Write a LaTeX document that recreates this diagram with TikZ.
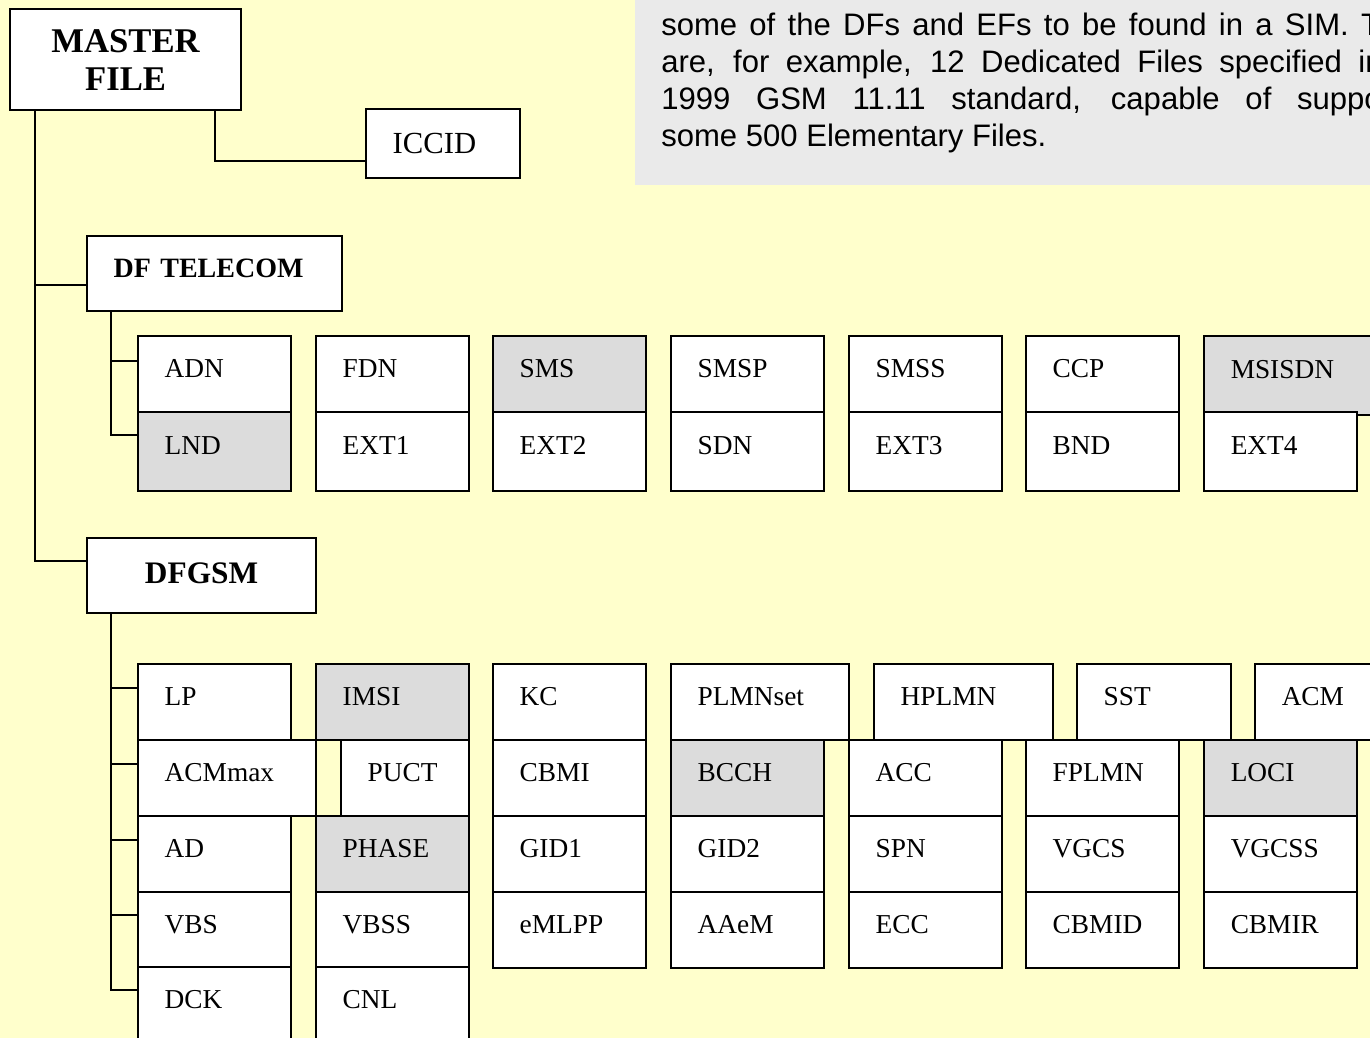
\documentclass[tikz,border=0pt]{standalone}
\usepackage{fontspec}
\setmainfont{Liberation Serif}
\newfontfamily\notefont{Liberation Sans}
\usetikzlibrary{calc}
\definecolor{paper}{RGB}{255,255,204}
\definecolor{efgray}{RGB}{220,220,220}
\definecolor{notegray}{RGB}{234,234,234}

\begin{document}
\begin{tikzpicture}[
    x=0.75pt, y=-0.75pt,
    box/.style={rectangle, draw, line width=1.6pt, fill=white, anchor=north west, inner ysep=0pt, inner xsep=20pt},
    ef/.style={box, minimum height=57pt, text width=#1, align=left, text height=15pt, text depth=10.5pt, font=\fontsize{20.5}{24}\selectfont},
    ef/.default=74.75pt,
    efg/.style={ef=#1, fill=efgray},
    efg/.default=74.75pt,
    df/.style={box, minimum height=56.5pt, font=\bfseries\fontsize{21}{25}\selectfont},
    link/.style={line width=1.6pt}
]
\path[use as bounding box, fill=paper] (0,0) rectangle (1370,1038);

% note on the right
\node[anchor=south west, fill=notegray, inner xsep=19.5pt, inner ysep=24pt, text width=585.75pt, align=justify,
      font=\notefont\fontsize{23.3}{27.75}\selectfont\tolerance=10000\hyphenpenalty=10000] (note) at (635,185)
    {It should be noted that this diagram is only illustrative of\linebreak some of the DFs and EFs to be found in a SIM. There\linebreak are, for example, 12 Dedicated Files specified in the\linebreak 1999 GSM 11.11 standard, capable of supporting\linebreak some 500 Elementary Files.};

% master file
\node[box, minimum width=173.25pt, minimum height=75.75pt, align=center, font=\bfseries\fontsize{26}{28.5}\selectfont] (mf) at (9,8) {MASTER\\FILE};
\node[box, text width=75.5pt, minimum height=51.75pt, align=left, font=\fontsize{23}{27}\selectfont] (iccid) at (365,108) {ICCID};

% DF TELECOM
\node[df, text width=151.25pt, align=left, text height=15pt, text depth=9.75pt] (dft) at (86,235) {DF TELECOM};
\node[ef] (adn) at (137,335) {ADN};
\node[ef] (fdn) at (315,335) {FDN};
\node[efg] (sms) at (492,335) {SMS};
\node[ef] (smsp) at (670,335) {SMSP};
\node[ef] (smss) at (848,335) {SMSS};
\node[ef] (ccp) at (1025,335) {CCP};
\node[efg=93.5pt, minimum height=59pt] (msisdn) at (1203,335) {MSISDN};
\node[efg, minimum height=59pt] (lnd) at (137,411) {LND};
\node[ef, minimum height=59pt] (ext1) at (315,411) {EXT1};
\node[ef, minimum height=59pt] (ext2) at (492,411) {EXT2};
\node[ef, minimum height=59pt] (sdn) at (670,411) {SDN};
\node[ef, minimum height=59pt] (ext3) at (848,411) {EXT3};
\node[ef, minimum height=59pt] (bnd) at (1025,411) {BND};
\node[ef, minimum height=59pt] (ext4) at (1203,411) {EXT4};

% DFGSM
\node[df, minimum width=171.75pt, text height=18pt, text depth=6pt, font=\bfseries\fontsize{23.5}{28}\selectfont] (dfgsm) at (86,537) {DFGSM};
\node[ef] (lp) at (137,663) {LP};
\node[efg] (imsi) at (315,663) {IMSI};
\node[ef] (kc) at (492,663) {KC};
\node[ef=93.5pt] (plmnset) at (670,663) {PLMNset};
\node[ef=94.25pt] (hplmn) at (873,663) {HPLMN};
\node[ef=75.5pt] (sst) at (1076,663) {SST};
\node[ef=93.5pt] (acm) at (1254,663) {ACM};
\node[ef=93.5pt] (acmmax) at (137,739) {ACMmax};
\node[ef=56pt] (puct) at (340,739) {PUCT};
\node[ef] (cbmi) at (492,739) {CBMI};
\node[efg] (bcch) at (670,739) {BCCH};
\node[ef] (acc) at (848,739) {ACC};
\node[ef] (fplmn) at (1025,739) {FPLMN};
\node[efg] (loci) at (1203,739) {LOCI};
\node[ef] (ad) at (137,815) {AD};
\node[efg] (phase) at (315,815) {PHASE};
\node[ef] (gid1) at (492,815) {GID1};
\node[ef] (gid2) at (670,815) {GID2};
\node[ef] (spn) at (848,815) {SPN};
\node[ef] (vgcs) at (1025,815) {VGCS};
\node[ef] (vgcss) at (1203,815) {VGCSS};
\node[ef] (vbs) at (137,891) {VBS};
\node[ef] (vbss) at (315,891) {VBSS};
\node[ef] (emlpp) at (492,891) {eMLPP};
\node[ef] (aaem) at (670,891) {AAeM};
\node[ef] (ecc) at (848,891) {ECC};
\node[ef] (cbmid) at (1025,891) {CBMID};
\node[ef] (cbmir) at (1203,891) {CBMIR};
\node[ef] (dck) at (137,966) {DCK};
\node[ef] (cnl) at (315,966) {CNL};

% tree lines
\draw[link] ($(mf.south east)+(-27,0)$) |- ($(iccid.south west)+(0,-18)$);
\draw[link] ($(mf.south west)+(26,0)$) |- ($(dft.north west)+(0,50)$);
\draw[link] ($(mf.south west)+(26,0)$) |- ($(dfgsm.north west)+(0,24)$);
\draw[link] ($(dft.south west)+(25,0)$) |- ($(adn.north west)+(0,26)$);
\draw[link] ($(dft.south west)+(25,0)$) |- ($(lnd.north west)+(0,24)$);
\draw[link] ($(dfgsm.south west)+(25,0)$) |- ($(lp.north west)+(0,25)$);
\draw[link] ($(dfgsm.south west)+(25,0)$) |- ($(acmmax.north west)+(0,25)$);
\draw[link] ($(dfgsm.south west)+(25,0)$) |- ($(ad.north west)+(0,25)$);
\draw[link] ($(dfgsm.south west)+(25,0)$) |- ($(vbs.north west)+(0,24)$);
\draw[link] ($(dfgsm.south west)+(25,0)$) |- ($(dck.north west)+(0,24)$);
\end{tikzpicture}
\end{document}
